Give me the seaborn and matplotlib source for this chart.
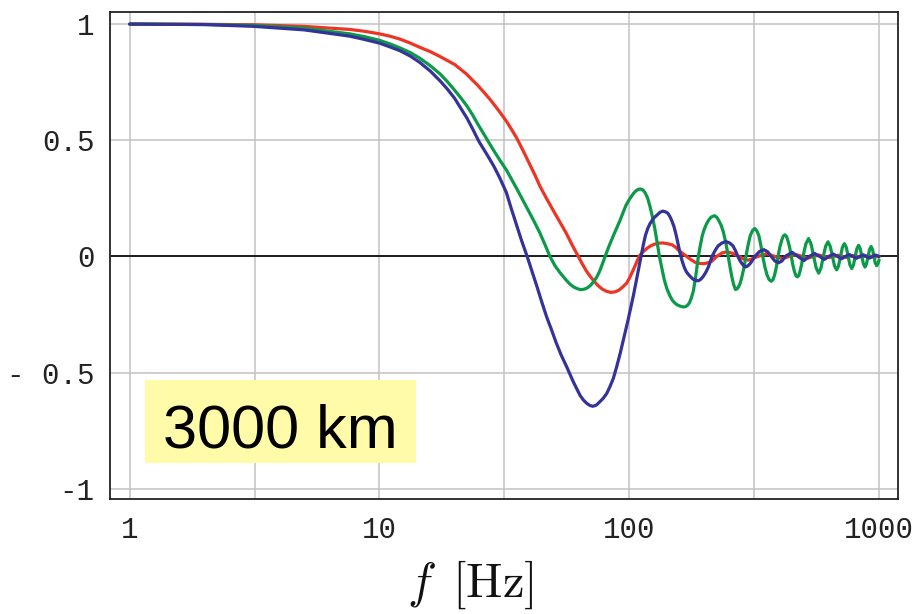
import matplotlib
matplotlib.use("Agg")
import matplotlib.pyplot as plt
import matplotlib.ticker as mticker
from matplotlib.patches import Rectangle
import seaborn as sns
import pandas as pd

# ---------------- data ----------------
red_f = [1.0, 2.0, 3.16, 5.0, 7.6, 8.7, 10.0, 11.0, 12.1, 13.3,
         14.5, 16.0, 17.5, 18.7, 20.0, 21.1, 22.3, 23.5, 24.8, 26.2,
         27.7, 30.0, 32.3, 33.8, 35.4, 37.7, 40.0, 42.0, 43.9, 46.7,
         49.6, 52.6, 55.8, 59.0, 62.5, 64.8, 67.1, 69.4, 71.8, 74.7,
         77.8, 81.0, 84.5, 88.0, 90.9, 94.0, 97.6, 100.5, 103.5, 106.5,
         109.3, 113.5, 117.8, 121.5, 125.6, 131.0, 136.4, 142.0, 148.3, 153.0,
         158.1, 164.0, 169.7, 176.0, 183.2, 191.0, 199.0, 207.0, 214.3, 224.0,
         235.0, 246.0, 258.0, 270.0, 285.0, 300.0, 327.0, 355.0, 382.0, 410.0,
         437.0, 465.0, 492.0, 520.0, 547.0, 575.0, 602.0, 630.0, 657.0, 685.0,
         712.0, 740.0, 767.0, 795.0, 822.0, 850.0, 877.0, 905.0, 932.0, 960.0,
         1000.0]
red_y = [1.000, 0.999, 0.997, 0.990, 0.977, 0.969, 0.958, 0.948, 0.935, 0.918,
         0.900, 0.881, 0.860, 0.843, 0.826, 0.806, 0.785, 0.760, 0.735, 0.706,
         0.676, 0.628, 0.580, 0.546, 0.510, 0.452, 0.395, 0.348, 0.302, 0.248,
         0.198, 0.150, 0.102, 0.050, 0.0, -0.032, -0.060, -0.083, -0.103, -0.124,
         -0.140, -0.150, -0.155, -0.152, -0.145, -0.132, -0.115, -0.090, -0.060, -0.030,
         0.0, 0.020, 0.035, 0.045, 0.052, 0.057, 0.058, 0.055, 0.050, 0.040,
         0.025, 0.012, 0.0, -0.013, -0.025, -0.030, -0.031, -0.027, -0.020, 0.0,
         0.015, 0.020, 0.014, 0.004, -0.010, -0.016, 0.0, 0.012, 0.0, -0.010,
         0.0, 0.008, 0.0, -0.007, 0.0, 0.006, 0.0, -0.005, 0.0, 0.005,
         0.0, -0.004, 0.0, 0.004, 0.0, -0.003, 0.0, 0.003, 0.0, -0.003,
         0.0]

green_f = [1.0, 2.0, 3.16, 5.0, 7.6, 8.7, 10.0, 11.0, 12.1, 13.3,
           14.5, 16.0, 17.5, 18.7, 20.0, 21.1, 22.3, 23.5, 24.8, 26.9,
           28.5, 30.3, 32.3, 35.5, 38.8, 41.3, 43.9, 46.0, 48.1, 50.4,
           52.8, 56.2, 58.0, 60.0, 62.0, 63.9, 66.0, 68.0, 70.0, 71.8,
           74.0, 76.0, 78.0, 80.0, 83.0, 86.0, 89.0, 91.8, 94.5, 97.0,
           99.6, 102.2, 104.3, 106.5, 108.8, 111.1, 113.5, 116.0, 118.5, 121.0,
           123.8, 126.5, 129.2, 132.0, 135.0, 138.0, 141.5, 145.5, 149.0, 153.0,
           156.5, 160.0, 163.5, 167.0, 170.5, 174.0, 177.0, 180.4, 184.5, 189.0,
           192.5, 196.0, 200.0, 204.0, 208.0, 212.0, 216.0, 220.0, 224.0, 228.0,
           233.0, 238.0, 243.5, 249.0, 253.0, 257.0, 261.5, 266.0, 270.0, 274.0,
           278.0, 282.0, 287.5, 293.0, 299.0, 305.0, 311.5, 318.0, 324.0, 330.0,
           336.0, 342.0, 349.0, 356.0, 363.0, 370.0, 376.0, 382.0, 388.0, 394.0,
           400.5, 407.0, 413.5, 420.0, 426.0, 432.0, 438.5, 445.0, 451.5, 458.0,
           464.5, 471.0, 477.0, 483.0, 489.5, 496.0, 509.0, 522.0, 534.0, 547.0,
           560.0, 573.0, 585.0, 598.0, 611.0, 624.0, 637.0, 650.0, 663.0, 676.0,
           688.0, 701.0, 713.0, 726.0, 739.0, 752.0, 764.0, 777.0, 790.0, 802.0,
           815.0, 828.0, 840.0, 853.0, 865.0, 878.0, 890.0, 903.0, 916.0, 929.0,
           941.0, 953.0, 965.0, 978.0, 990.0, 1000.0]
green_y = [1.000, 0.998, 0.994, 0.982, 0.958, 0.946, 0.930, 0.915, 0.897, 0.877,
           0.853, 0.820, 0.785, 0.752, 0.715, 0.684, 0.650, 0.612, 0.568, 0.505,
           0.460, 0.415, 0.370, 0.290, 0.212, 0.157, 0.100, 0.050, 0.0, -0.040,
           -0.070, -0.105, -0.120, -0.132, -0.139, -0.143, -0.141, -0.135, -0.124, -0.110,
           -0.090, -0.065, -0.033, 0.0, 0.045, 0.085, 0.122, 0.155, 0.190, 0.220,
           0.242, 0.260, 0.273, 0.283, 0.289, 0.290, 0.286, 0.272, 0.250, 0.215,
           0.170, 0.120, 0.062, 0.0, -0.050, -0.100, -0.140, -0.170, -0.190, -0.203,
           -0.210, -0.214, -0.217, -0.217, -0.212, -0.200, -0.180, -0.150, -0.085, 0.0,
           0.048, 0.090, 0.120, 0.141, 0.157, 0.168, 0.173, 0.175, 0.168, 0.155,
           0.135, 0.105, 0.058, 0.0, -0.045, -0.085, -0.120, -0.142, -0.140, -0.130,
           -0.115, -0.090, -0.050, 0.0, 0.050, 0.090, 0.112, 0.120, 0.110, 0.090,
           0.050, 0.0, -0.045, -0.080, -0.100, -0.107, -0.100, -0.078, -0.045, 0.0,
           0.040, 0.068, 0.088, 0.093, 0.086, 0.066, 0.038, 0.0, -0.036, -0.064,
           -0.083, -0.088, -0.082, -0.062, -0.034, 0.0, 0.054, 0.077, 0.054, 0.0,
           -0.050, -0.072, -0.050, 0.0, 0.044, 0.063, 0.044, 0.0, -0.041, -0.058,
           -0.041, 0.0, 0.039, 0.055, 0.039, 0.0, -0.036, -0.052, -0.036, 0.0,
           0.034, 0.048, 0.034, 0.0, -0.032, -0.046, -0.032, 0.0, 0.030, 0.043,
           0.030, 0.0, -0.028, -0.040, -0.030, -0.015]

blue_f = [1.0, 2.0, 3.16, 5.0, 7.6, 8.7, 10.0, 11.0, 12.1, 13.3,
          14.5, 16.0, 17.5, 18.7, 20.0, 21.1, 22.4, 23.7, 25.0, 26.0,
          27.3, 28.7, 30.3, 32.2, 33.6, 35.2, 37.0, 39.0, 40.8, 42.7,
          44.6, 46.7, 48.8, 50.9, 53.4, 56.2, 59.7, 63.5, 65.5, 67.5,
          69.4, 71.4, 73.8, 76.3, 78.7, 81.2, 83.7, 86.3, 89.0, 91.8,
          93.9, 96.1, 98.8, 101.6, 104.0, 106.4, 108.9, 111.4, 113.7, 116.0,
          118.5, 121.0, 125.2, 129.7, 132.8, 136.1, 139.5, 142.9, 145.3, 147.8,
          150.8, 153.8, 156.7, 159.6, 162.8, 166.0, 169.0, 172.3, 176.0, 180.0,
          184.4, 188.9, 193.4, 198.0, 202.5, 207.2, 210.7, 214.3, 220.4, 226.5,
          235.0, 243.8, 252.0, 260.2, 266.0, 272.0, 277.0, 282.0, 287.0, 292.0,
          298.0, 305.0, 311.0, 318.0, 332.0, 346.0, 358.0, 370.0, 383.0, 396.0,
          408.0, 421.0, 448.0, 473.0, 500.0, 525.0, 552.0, 577.0, 604.0, 629.0,
          656.0, 681.0, 708.0, 733.0, 760.0, 785.0, 812.0, 837.0, 864.0, 889.0,
          916.0, 941.0, 968.0, 1000.0]
blue_y = [1.000, 0.998, 0.990, 0.975, 0.948, 0.934, 0.918, 0.902, 0.885, 0.862,
          0.835, 0.797, 0.755, 0.720, 0.680, 0.640, 0.595, 0.545, 0.495, 0.465,
          0.428, 0.388, 0.338, 0.275, 0.210, 0.143, 0.070, 0.0, -0.065, -0.130,
          -0.195, -0.261, -0.315, -0.370, -0.425, -0.476, -0.540, -0.598, -0.618, -0.632,
          -0.641, -0.645, -0.640, -0.625, -0.610, -0.590, -0.560, -0.525, -0.475, -0.420,
          -0.375, -0.330, -0.275, -0.215, -0.165, -0.110, -0.055, 0.0, 0.048, 0.090,
          0.120, 0.141, 0.165, 0.180, 0.190, 0.195, 0.192, 0.185, 0.172, 0.155,
          0.130, 0.095, 0.055, 0.015, -0.020, -0.047, -0.065, -0.077, -0.088, -0.098,
          -0.103, -0.105, -0.098, -0.085, -0.068, -0.046, -0.024, 0.0, 0.025, 0.045,
          0.058, 0.064, 0.058, 0.045, 0.025, 0.0, -0.017, -0.030, -0.040, -0.045,
          -0.041, -0.030, -0.017, 0.0, 0.021, 0.029, 0.020, 0.0, -0.020, -0.027,
          -0.020, 0.0, 0.018, 0.0, -0.018, 0.0, 0.013, 0.0, -0.013, 0.0,
          0.010, 0.0, -0.010, 0.0, 0.008, 0.0, -0.008, 0.0, 0.007, 0.0,
          -0.007, 0.0, 0.006, 0.0]

curve_names = ["red", "green", "blue"]
curve_colors = ["#EE3524", "#0A9A48", "#33339A"]

x_ticks = [1, 10, 100, 1000]
x_tick_labels = ["1", "10", "100", "1000"]
y_ticks = [-1, -0.5, 0, 0.5, 1]
y_tick_labels = ["-1", "- 0.5", "0", "0.5", "1"]
x_label = r"$f\ \,[\mathrm{Hz}]$"
box_label = "3000 km"

# ---------------- build table ----------------
frames = []
for name, fs, ys in zip(curve_names, [red_f, green_f, blue_f], [red_y, green_y, blue_y]):
    assert len(fs) == len(ys), (name, len(fs), len(ys))
    frames.append(pd.DataFrame({"f": fs, "val": ys, "curve": name}))
df = pd.concat(frames, ignore_index=True)

# ---------------- style ----------------
sns.set_theme(style="white")
plt.rcParams["mathtext.fontset"] = "cm"
plt.rcParams["font.family"] = ["Liberation Sans", "DejaVu Sans"]

W, H = 915, 614
fig = plt.figure(figsize=(W / 100, H / 100), dpi=100)
ax_l, ax_r, ax_t, ax_b = 110, 897.7, 12, 499
ax = fig.add_axes([ax_l / W, 1 - ax_b / H, (ax_r - ax_l) / W, (ax_b - ax_t) / H])

ax.set_xscale("log")
sns.lineplot(data=df, x="f", y="val", hue="curve", hue_order=curve_names,
             palette=dict(zip(curve_names, curve_colors)), sort=False,
             estimator=None, linewidth=2.3, legend=False, ax=ax, zorder=3)
for ln in ax.get_lines():
    ln.set_solid_joinstyle("round")
    ln.set_solid_capstyle("round")

ax.set_xlim(0.834, 1187)
ax.set_ylim(-1.044, 1.052)

ax.set_xticks(x_ticks)
ax.set_xticklabels(x_tick_labels)
ax.xaxis.set_minor_locator(mticker.FixedLocator([10 ** 0.5, 10 ** 1.5, 10 ** 2.5]))
ax.set_yticks(y_ticks)
ax.set_yticklabels(y_tick_labels)
ax.yaxis.set_minor_locator(mticker.MultipleLocator(0.1))

grid_kw = dict(color="#c2c2c2", linewidth=1.1)
ax.xaxis.grid(True, which="both", **grid_kw)
ax.yaxis.grid(True, which="major", **grid_kw)
ax.set_axisbelow(True)
ax.axhline(0, color="black", linewidth=1.2, zorder=2)

ax.tick_params(axis="both", which="both", direction="in", color="#222222", width=1.0)
ax.tick_params(axis="x", which="major", length=6, pad=12)
ax.tick_params(axis="x", which="minor", length=0)
ax.tick_params(axis="y", which="major", length=5, pad=11)
ax.tick_params(axis="y", which="minor", length=5)
for lab in ax.get_xticklabels() + ax.get_yticklabels():
    lab.set_fontfamily(["Liberation Mono", "DejaVu Sans Mono"])
    lab.set_fontsize(21)
    lab.set_color("#222222")

for sp in ax.spines.values():
    sp.set_color("#222222")
    sp.set_linewidth(1.3)
    sp.set_visible(True)

ax.set_xlabel("")
ax.set_ylabel("")

# yellow label box
bx0 = (145 - ax_l) / (ax_r - ax_l)
bx1 = (416 - ax_l) / (ax_r - ax_l)
by0 = (ax_b - 463) / (ax_b - ax_t)
by1 = (ax_b - 380) / (ax_b - ax_t)
ax.add_patch(Rectangle((bx0, by0), bx1 - bx0, by1 - by0, transform=ax.transAxes,
                       facecolor="#FFFBA8", edgecolor="none", zorder=5))
ax.text((163 - ax_l) / (ax_r - ax_l), (ax_b - 448) / (ax_b - ax_t), box_label,
        transform=ax.transAxes, ha="left", va="baseline", fontsize=44,
        family=["Liberation Sans", "DejaVu Sans"], color="black", zorder=6)

# x-axis label
fig.text(470.5 / W, 1 - 597 / H, x_label, ha="center", va="baseline", fontsize=35,
         color="#111111")

fig.savefig("out.png", dpi=100)
